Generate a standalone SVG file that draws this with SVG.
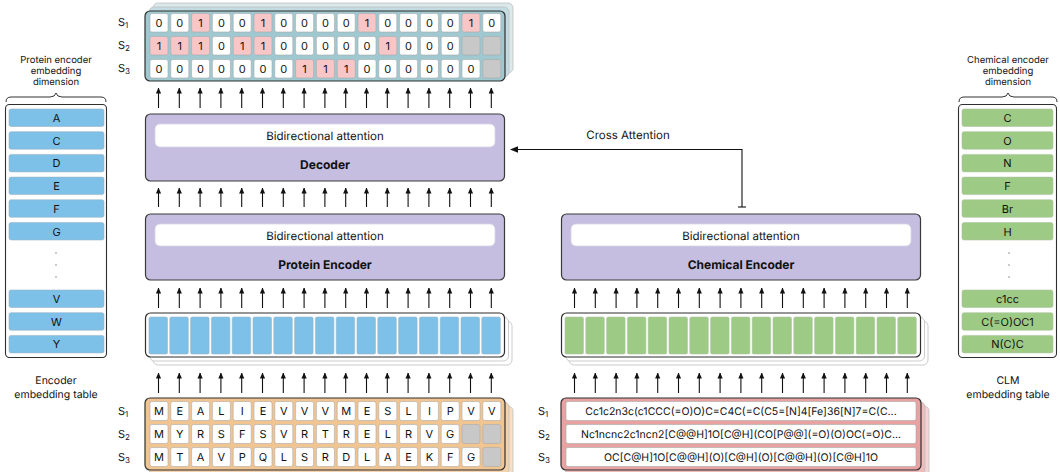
<svg xmlns="http://www.w3.org/2000/svg" width="1060" height="472" viewBox="0 0 1060 472">
  <defs>
    <!-- arrowheads point along +x; orient="auto" turns them with the line -->
    <marker id="head" viewBox="0 0 6 6" refX="5.5" refY="3" markerWidth="6" markerHeight="6" markerUnits="userSpaceOnUse" orient="auto">
      <path d="M0,0.4 L6,3 L0,5.6 Z" fill="#111"/>
    </marker>
    <marker id="headL" viewBox="0 0 8 8" refX="7" refY="4" markerWidth="8" markerHeight="8" markerUnits="userSpaceOnUse" orient="auto">
      <path d="M0,0.8 L8,4 L0,7.2 Z" fill="#111"/>
    </marker>
  </defs>
  <style>
    text { font-family: Inter, "Noto Sans", "Liberation Sans", sans-serif; fill: #111; text-rendering: geometricPrecision; }
    .cap { font-size: 9.5px; text-anchor: middle; }
    .cap2 { font-size: 10.5px; text-anchor: middle; }
    .sub { font-size: 11px; }
    .cell { font-size: 11px; text-anchor: middle; }
    .tok { font-size: 10.5px; text-anchor: middle; }
    .title { font-size: 12px; font-weight: 700; text-anchor: middle; }
    .attn { font-size: 11.5px; text-anchor: middle; }
    .block { fill: #c5bee0; stroke: #3a3a3a; stroke-width: 1.2; }
    .inner { fill: #ffffff; stroke: #d8d4e6; stroke-width: 0.8; }
    .frame { stroke: #2f2f2f; stroke-width: 1.2; }
    .c0 { fill: #ffffff; stroke: #aaaaaa; stroke-width: 0.6; }
    .c1 { fill: #f8c6c6; stroke: #aaaaaa; stroke-width: 0.6; }
    .cp { fill: #c8c8c8; stroke: #aaaaaa; stroke-width: 0.6; }
    .blue { fill: #7dc0e8; stroke: #9cb6c6; stroke-width: 0.6; }
    .green { fill: #9dca84; stroke: #b0c4a4; stroke-width: 0.6; }
    .shadow { stroke: #bfbfbf; stroke-width: 0.8; }
    .arw line { stroke: #111; stroke-width: 1.1; marker-end: url(#head); }
    .table { fill: #ffffff; stroke: #2f2f2f; stroke-width: 1.1; }
    .dot { fill: #888; }
  </style>

  <!-- ===== Output token table (top) ===== -->
  <g id="output-grid">
    <rect x="153" y="3" width="360" height="70" rx="5" fill="#dbe9ec" class="shadow"/>
    <rect x="149" y="7" width="360" height="70" rx="5" fill="#c3dce1" class="shadow"/>
    <rect x="145" y="11" width="360" height="70" rx="5" fill="#9fc8d0" class="frame"/>
    <text class="sub" x="118" y="26">S<tspan font-size="8" dy="2">1</tspan></text>
    <text class="sub" x="118" y="49">S<tspan font-size="8" dy="2">2</tspan></text>
    <text class="sub" x="118" y="72">S<tspan font-size="8" dy="2">3</tspan></text>
    <!-- row S1 -->
    <g>
      <rect class="c0" x="150" y="13.5" width="18" height="18.5" rx="2"/><text class="cell" x="159" y="27">0</text>
      <rect class="c0" x="170.8" y="13.5" width="18" height="18.5" rx="2"/><text class="cell" x="179.8" y="27">0</text>
      <rect class="c1" x="191.6" y="13.5" width="18" height="18.5" rx="2"/><text class="cell" x="200.6" y="27">1</text>
      <rect class="c0" x="212.4" y="13.5" width="18" height="18.5" rx="2"/><text class="cell" x="221.4" y="27">0</text>
      <rect class="c0" x="233.2" y="13.5" width="18" height="18.5" rx="2"/><text class="cell" x="242.2" y="27">0</text>
      <rect class="c1" x="254" y="13.5" width="18" height="18.5" rx="2"/><text class="cell" x="263" y="27">1</text>
      <rect class="c0" x="274.8" y="13.5" width="18" height="18.5" rx="2"/><text class="cell" x="283.8" y="27">0</text>
      <rect class="c0" x="295.6" y="13.5" width="18" height="18.5" rx="2"/><text class="cell" x="304.6" y="27">0</text>
      <rect class="c0" x="316.4" y="13.5" width="18" height="18.5" rx="2"/><text class="cell" x="325.4" y="27">0</text>
      <rect class="c0" x="337.2" y="13.5" width="18" height="18.5" rx="2"/><text class="cell" x="346.2" y="27">0</text>
      <rect class="c1" x="358" y="13.5" width="18" height="18.5" rx="2"/><text class="cell" x="367" y="27">1</text>
      <rect class="c0" x="378.8" y="13.5" width="18" height="18.5" rx="2"/><text class="cell" x="387.8" y="27">0</text>
      <rect class="c0" x="399.6" y="13.5" width="18" height="18.5" rx="2"/><text class="cell" x="408.6" y="27">0</text>
      <rect class="c0" x="420.4" y="13.5" width="18" height="18.5" rx="2"/><text class="cell" x="429.4" y="27">0</text>
      <rect class="c0" x="441.2" y="13.5" width="18" height="18.5" rx="2"/><text class="cell" x="450.2" y="27">0</text>
      <rect class="c1" x="462" y="13.5" width="18" height="18.5" rx="2"/><text class="cell" x="471" y="27">1</text>
      <rect class="c0" x="482.8" y="13.5" width="18" height="18.5" rx="2"/><text class="cell" x="491.8" y="27">0</text>
    </g>
    <!-- row S2 -->
    <g>
      <rect class="c1" x="150" y="36.5" width="18" height="18.5" rx="2"/><text class="cell" x="159" y="50">1</text>
      <rect class="c1" x="170.8" y="36.5" width="18" height="18.5" rx="2"/><text class="cell" x="179.8" y="50">1</text>
      <rect class="c1" x="191.6" y="36.5" width="18" height="18.5" rx="2"/><text class="cell" x="200.6" y="50">1</text>
      <rect class="c0" x="212.4" y="36.5" width="18" height="18.5" rx="2"/><text class="cell" x="221.4" y="50">0</text>
      <rect class="c1" x="233.2" y="36.5" width="18" height="18.5" rx="2"/><text class="cell" x="242.2" y="50">1</text>
      <rect class="c1" x="254" y="36.5" width="18" height="18.5" rx="2"/><text class="cell" x="263" y="50">1</text>
      <rect class="c0" x="274.8" y="36.5" width="18" height="18.5" rx="2"/><text class="cell" x="283.8" y="50">0</text>
      <rect class="c0" x="295.6" y="36.5" width="18" height="18.5" rx="2"/><text class="cell" x="304.6" y="50">0</text>
      <rect class="c0" x="316.4" y="36.5" width="18" height="18.5" rx="2"/><text class="cell" x="325.4" y="50">0</text>
      <rect class="c0" x="337.2" y="36.5" width="18" height="18.5" rx="2"/><text class="cell" x="346.2" y="50">0</text>
      <rect class="c0" x="358" y="36.5" width="18" height="18.5" rx="2"/><text class="cell" x="367" y="50">0</text>
      <rect class="c1" x="378.8" y="36.5" width="18" height="18.5" rx="2"/><text class="cell" x="387.8" y="50">1</text>
      <rect class="c0" x="399.6" y="36.5" width="18" height="18.5" rx="2"/><text class="cell" x="408.6" y="50">0</text>
      <rect class="c0" x="420.4" y="36.5" width="18" height="18.5" rx="2"/><text class="cell" x="429.4" y="50">0</text>
      <rect class="c0" x="441.2" y="36.5" width="18" height="18.5" rx="2"/><text class="cell" x="450.2" y="50">0</text>
      <rect class="cp" x="462" y="36.5" width="18" height="18.5" rx="2"/>
      <rect class="cp" x="482.8" y="36.5" width="18" height="18.5" rx="2"/>
    </g>
    <!-- row S3 -->
    <g>
      <rect class="c0" x="150" y="59.5" width="18" height="18.5" rx="2"/><text class="cell" x="159" y="73">0</text>
      <rect class="c0" x="170.8" y="59.5" width="18" height="18.5" rx="2"/><text class="cell" x="179.8" y="73">0</text>
      <rect class="c0" x="191.6" y="59.5" width="18" height="18.5" rx="2"/><text class="cell" x="200.6" y="73">0</text>
      <rect class="c0" x="212.4" y="59.5" width="18" height="18.5" rx="2"/><text class="cell" x="221.4" y="73">0</text>
      <rect class="c0" x="233.2" y="59.5" width="18" height="18.5" rx="2"/><text class="cell" x="242.2" y="73">0</text>
      <rect class="c0" x="254" y="59.5" width="18" height="18.5" rx="2"/><text class="cell" x="263" y="73">0</text>
      <rect class="c0" x="274.8" y="59.5" width="18" height="18.5" rx="2"/><text class="cell" x="283.8" y="73">0</text>
      <rect class="c1" x="295.6" y="59.5" width="18" height="18.5" rx="2"/><text class="cell" x="304.6" y="73">1</text>
      <rect class="c1" x="316.4" y="59.5" width="18" height="18.5" rx="2"/><text class="cell" x="325.4" y="73">1</text>
      <rect class="c1" x="337.2" y="59.5" width="18" height="18.5" rx="2"/><text class="cell" x="346.2" y="73">1</text>
      <rect class="c0" x="358" y="59.5" width="18" height="18.5" rx="2"/><text class="cell" x="367" y="73">0</text>
      <rect class="c0" x="378.8" y="59.5" width="18" height="18.5" rx="2"/><text class="cell" x="387.8" y="73">0</text>
      <rect class="c0" x="399.6" y="59.5" width="18" height="18.5" rx="2"/><text class="cell" x="408.6" y="73">0</text>
      <rect class="c0" x="420.4" y="59.5" width="18" height="18.5" rx="2"/><text class="cell" x="429.4" y="73">0</text>
      <rect class="c0" x="441.2" y="59.5" width="18" height="18.5" rx="2"/><text class="cell" x="450.2" y="73">0</text>
      <rect class="c0" x="462" y="59.5" width="18" height="18.5" rx="2"/><text class="cell" x="471" y="73">0</text>
      <rect class="cp" x="482.8" y="59.5" width="18" height="18.5" rx="2"/>
    </g>
  </g>

  <!-- ===== Decoder ===== -->
  <g id="decoder">
    <rect class="block" x="145.5" y="114" width="359" height="67" rx="5"/>
    <rect class="inner" x="155" y="124" width="340" height="23" rx="5"/>
    <text class="attn" x="325" y="140">Bidirectional attention</text>
    <text class="title" x="325" y="169">Decoder</text>
  </g>

  <!-- ===== Protein encoder ===== -->
  <g id="protein-encoder">
    <rect class="block" x="145.5" y="214" width="359" height="66" rx="5"/>
    <rect class="inner" x="155" y="224" width="340" height="22" rx="5"/>
    <text class="attn" x="325" y="240">Bidirectional attention</text>
    <text class="title" x="325" y="269">Protein Encoder</text>
  </g>

  <!-- ===== Chemical encoder ===== -->
  <g id="chemical-encoder">
    <rect class="block" x="561.5" y="214" width="359" height="66" rx="5"/>
    <rect class="inner" x="571" y="224" width="340" height="22" rx="5"/>
    <text class="attn" x="741" y="240">Bidirectional attention</text>
    <text class="title" x="741" y="269">Chemical Encoder</text>
  </g>

  <!-- ===== Protein token embeddings ===== -->
  <g id="protein-embeddings">
    <rect x="153" y="321" width="359" height="44" rx="5" fill="#ffffff" class="shadow"/>
    <rect x="149.5" y="317" width="359" height="44" rx="5" fill="#ffffff" class="shadow"/>
    <rect x="145.5" y="313" width="359" height="44" rx="5" fill="#ffffff" class="frame"/>
    <rect class="blue" x="149" y="317" width="18.5" height="37" rx="1.5"/>
    <rect class="blue" x="169.8" y="317" width="18.5" height="37" rx="1.5"/>
    <rect class="blue" x="190.6" y="317" width="18.5" height="37" rx="1.5"/>
    <rect class="blue" x="211.4" y="317" width="18.5" height="37" rx="1.5"/>
    <rect class="blue" x="232.2" y="317" width="18.5" height="37" rx="1.5"/>
    <rect class="blue" x="253" y="317" width="18.5" height="37" rx="1.5"/>
    <rect class="blue" x="273.8" y="317" width="18.5" height="37" rx="1.5"/>
    <rect class="blue" x="294.6" y="317" width="18.5" height="37" rx="1.5"/>
    <rect class="blue" x="315.4" y="317" width="18.5" height="37" rx="1.5"/>
    <rect class="blue" x="336.2" y="317" width="18.5" height="37" rx="1.5"/>
    <rect class="blue" x="357" y="317" width="18.5" height="37" rx="1.5"/>
    <rect class="blue" x="377.8" y="317" width="18.5" height="37" rx="1.5"/>
    <rect class="blue" x="398.6" y="317" width="18.5" height="37" rx="1.5"/>
    <rect class="blue" x="419.4" y="317" width="18.5" height="37" rx="1.5"/>
    <rect class="blue" x="440.2" y="317" width="18.5" height="37" rx="1.5"/>
    <rect class="blue" x="461" y="317" width="18.5" height="37" rx="1.5"/>
    <rect class="blue" x="481.8" y="317" width="18.5" height="37" rx="1.5"/>
  </g>

  <!-- ===== Chemical token embeddings ===== -->
  <g id="chemical-embeddings">
    <rect x="569" y="321" width="359" height="44" rx="5" fill="#ffffff" class="shadow"/>
    <rect x="565.5" y="317" width="359" height="44" rx="5" fill="#ffffff" class="shadow"/>
    <rect x="561.5" y="313" width="359" height="44" rx="5" fill="#ffffff" class="frame"/>
    <rect class="green" x="565" y="317" width="18.5" height="37" rx="1.5"/>
    <rect class="green" x="585.8" y="317" width="18.5" height="37" rx="1.5"/>
    <rect class="green" x="606.6" y="317" width="18.5" height="37" rx="1.5"/>
    <rect class="green" x="627.4" y="317" width="18.5" height="37" rx="1.5"/>
    <rect class="green" x="648.2" y="317" width="18.5" height="37" rx="1.5"/>
    <rect class="green" x="669" y="317" width="18.5" height="37" rx="1.5"/>
    <rect class="green" x="689.8" y="317" width="18.5" height="37" rx="1.5"/>
    <rect class="green" x="710.6" y="317" width="18.5" height="37" rx="1.5"/>
    <rect class="green" x="731.4" y="317" width="18.5" height="37" rx="1.5"/>
    <rect class="green" x="752.2" y="317" width="18.5" height="37" rx="1.5"/>
    <rect class="green" x="773" y="317" width="18.5" height="37" rx="1.5"/>
    <rect class="green" x="793.8" y="317" width="18.5" height="37" rx="1.5"/>
    <rect class="green" x="814.6" y="317" width="18.5" height="37" rx="1.5"/>
    <rect class="green" x="835.4" y="317" width="18.5" height="37" rx="1.5"/>
    <rect class="green" x="856.2" y="317" width="18.5" height="37" rx="1.5"/>
    <rect class="green" x="877" y="317" width="18.5" height="37" rx="1.5"/>
    <rect class="green" x="897.8" y="317" width="18.5" height="37" rx="1.5"/>
  </g>

  <!-- ===== Protein input sequences ===== -->
  <g id="protein-sequences">
    <rect x="153" y="406" width="360" height="72" rx="5" fill="#f6dfc4" class="shadow"/>
    <rect x="149" y="402" width="360" height="72" rx="5" fill="#f3d2ac" class="shadow"/>
    <rect x="145" y="398" width="360" height="72" rx="5" fill="#f1c592" class="frame"/>
    <text class="sub" x="118" y="415">S<tspan font-size="8" dy="2">1</tspan></text>
    <text class="sub" x="118" y="438">S<tspan font-size="8" dy="2">2</tspan></text>
    <text class="sub" x="118" y="461">S<tspan font-size="8" dy="2">3</tspan></text>
    <g>
      <rect class="c0" x="150" y="401.5" width="18" height="19" rx="2"/><text class="cell" x="159" y="415">M</text>
      <rect class="c0" x="170.8" y="401.5" width="18" height="19" rx="2"/><text class="cell" x="179.8" y="415">E</text>
      <rect class="c0" x="191.6" y="401.5" width="18" height="19" rx="2"/><text class="cell" x="200.6" y="415">A</text>
      <rect class="c0" x="212.4" y="401.5" width="18" height="19" rx="2"/><text class="cell" x="221.4" y="415">L</text>
      <rect class="c0" x="233.2" y="401.5" width="18" height="19" rx="2"/><text class="cell" x="242.2" y="415">I</text>
      <rect class="c0" x="254" y="401.5" width="18" height="19" rx="2"/><text class="cell" x="263" y="415">E</text>
      <rect class="c0" x="274.8" y="401.5" width="18" height="19" rx="2"/><text class="cell" x="283.8" y="415">V</text>
      <rect class="c0" x="295.6" y="401.5" width="18" height="19" rx="2"/><text class="cell" x="304.6" y="415">V</text>
      <rect class="c0" x="316.4" y="401.5" width="18" height="19" rx="2"/><text class="cell" x="325.4" y="415">V</text>
      <rect class="c0" x="337.2" y="401.5" width="18" height="19" rx="2"/><text class="cell" x="346.2" y="415">M</text>
      <rect class="c0" x="358" y="401.5" width="18" height="19" rx="2"/><text class="cell" x="367" y="415">E</text>
      <rect class="c0" x="378.8" y="401.5" width="18" height="19" rx="2"/><text class="cell" x="387.8" y="415">S</text>
      <rect class="c0" x="399.6" y="401.5" width="18" height="19" rx="2"/><text class="cell" x="408.6" y="415">L</text>
      <rect class="c0" x="420.4" y="401.5" width="18" height="19" rx="2"/><text class="cell" x="429.4" y="415">I</text>
      <rect class="c0" x="441.2" y="401.5" width="18" height="19" rx="2"/><text class="cell" x="450.2" y="415">P</text>
      <rect class="c0" x="462" y="401.5" width="18" height="19" rx="2"/><text class="cell" x="471" y="415">V</text>
      <rect class="c0" x="482.8" y="401.5" width="18" height="19" rx="2"/><text class="cell" x="491.8" y="415">V</text>
    </g>
    <g>
      <rect class="c0" x="150" y="424.5" width="18" height="19" rx="2"/><text class="cell" x="159" y="438">M</text>
      <rect class="c0" x="170.8" y="424.5" width="18" height="19" rx="2"/><text class="cell" x="179.8" y="438">Y</text>
      <rect class="c0" x="191.6" y="424.5" width="18" height="19" rx="2"/><text class="cell" x="200.6" y="438">R</text>
      <rect class="c0" x="212.4" y="424.5" width="18" height="19" rx="2"/><text class="cell" x="221.4" y="438">S</text>
      <rect class="c0" x="233.2" y="424.5" width="18" height="19" rx="2"/><text class="cell" x="242.2" y="438">F</text>
      <rect class="c0" x="254" y="424.5" width="18" height="19" rx="2"/><text class="cell" x="263" y="438">S</text>
      <rect class="c0" x="274.8" y="424.5" width="18" height="19" rx="2"/><text class="cell" x="283.8" y="438">V</text>
      <rect class="c0" x="295.6" y="424.5" width="18" height="19" rx="2"/><text class="cell" x="304.6" y="438">R</text>
      <rect class="c0" x="316.4" y="424.5" width="18" height="19" rx="2"/><text class="cell" x="325.4" y="438">T</text>
      <rect class="c0" x="337.2" y="424.5" width="18" height="19" rx="2"/><text class="cell" x="346.2" y="438">R</text>
      <rect class="c0" x="358" y="424.5" width="18" height="19" rx="2"/><text class="cell" x="367" y="438">E</text>
      <rect class="c0" x="378.8" y="424.5" width="18" height="19" rx="2"/><text class="cell" x="387.8" y="438">L</text>
      <rect class="c0" x="399.6" y="424.5" width="18" height="19" rx="2"/><text class="cell" x="408.6" y="438">R</text>
      <rect class="c0" x="420.4" y="424.5" width="18" height="19" rx="2"/><text class="cell" x="429.4" y="438">V</text>
      <rect class="c0" x="441.2" y="424.5" width="18" height="19" rx="2"/><text class="cell" x="450.2" y="438">G</text>
      <rect class="cp" x="462" y="424.5" width="18" height="19" rx="2"/>
      <rect class="cp" x="482.8" y="424.5" width="18" height="19" rx="2"/>
    </g>
    <g>
      <rect class="c0" x="150" y="447.5" width="18" height="19" rx="2"/><text class="cell" x="159" y="461">M</text>
      <rect class="c0" x="170.8" y="447.5" width="18" height="19" rx="2"/><text class="cell" x="179.8" y="461">T</text>
      <rect class="c0" x="191.6" y="447.5" width="18" height="19" rx="2"/><text class="cell" x="200.6" y="461">A</text>
      <rect class="c0" x="212.4" y="447.5" width="18" height="19" rx="2"/><text class="cell" x="221.4" y="461">V</text>
      <rect class="c0" x="233.2" y="447.5" width="18" height="19" rx="2"/><text class="cell" x="242.2" y="461">P</text>
      <rect class="c0" x="254" y="447.5" width="18" height="19" rx="2"/><text class="cell" x="263" y="461">Q</text>
      <rect class="c0" x="274.8" y="447.5" width="18" height="19" rx="2"/><text class="cell" x="283.8" y="461">L</text>
      <rect class="c0" x="295.6" y="447.5" width="18" height="19" rx="2"/><text class="cell" x="304.6" y="461">S</text>
      <rect class="c0" x="316.4" y="447.5" width="18" height="19" rx="2"/><text class="cell" x="325.4" y="461">R</text>
      <rect class="c0" x="337.2" y="447.5" width="18" height="19" rx="2"/><text class="cell" x="346.2" y="461">D</text>
      <rect class="c0" x="358" y="447.5" width="18" height="19" rx="2"/><text class="cell" x="367" y="461">L</text>
      <rect class="c0" x="378.8" y="447.5" width="18" height="19" rx="2"/><text class="cell" x="387.8" y="461">A</text>
      <rect class="c0" x="399.6" y="447.5" width="18" height="19" rx="2"/><text class="cell" x="408.6" y="461">E</text>
      <rect class="c0" x="420.4" y="447.5" width="18" height="19" rx="2"/><text class="cell" x="429.4" y="461">K</text>
      <rect class="c0" x="441.2" y="447.5" width="18" height="19" rx="2"/><text class="cell" x="450.2" y="461">F</text>
      <rect class="c0" x="462" y="447.5" width="18" height="19" rx="2"/><text class="cell" x="471" y="461">G</text>
      <rect class="cp" x="482.8" y="447.5" width="18" height="19" rx="2"/>
    </g>
  </g>

  <!-- ===== Chemical input sequences (SMILES) ===== -->
  <g id="chemical-sequences">
    <rect x="569" y="406" width="360" height="72" rx="5" fill="#f4d4d4" class="shadow"/>
    <rect x="565" y="402" width="360" height="72" rx="5" fill="#efbcbc" class="shadow"/>
    <rect x="561" y="398" width="360" height="72" rx="5" fill="#e9a2a2" class="frame"/>
    <text class="sub" x="538" y="415">S<tspan font-size="8" dy="2">1</tspan></text>
    <text class="sub" x="538" y="438">S<tspan font-size="8" dy="2">2</tspan></text>
    <text class="sub" x="538" y="461">S<tspan font-size="8" dy="2">3</tspan></text>
    <rect class="c0" x="566" y="401.5" width="350" height="19" rx="2"/>
    <text class="tok" x="741" y="415">Cc1c2n3c(c1CCC(=O)O)C=C4C(=C(C5=[N]4[Fe]36[N]7=C(C...</text>
    <rect class="c0" x="566" y="424.5" width="350" height="19" rx="2"/>
    <text class="tok" x="741" y="438">Nc1ncnc2c1ncn2[C@@H]1O[C@H](CO[P@@](=O)(O)OC(=O)C...</text>
    <rect class="c0" x="566" y="447.5" width="350" height="19" rx="2"/>
    <text class="tok" x="741" y="461">OC[C@H]1O[C@@H](O)[C@H](O)[C@@H](O)[C@H]1O</text>
  </g>

  <!-- ===== Protein embedding table (left) ===== -->
  <g id="protein-embedding-table">
    <text class="cap" x="56" y="63">Protein encoder</text>
    <text class="cap" x="56" y="74">embedding</text>
    <text class="cap" x="56" y="85">dimension</text>
    <path d="M6,102 Q6,97 11,97 L50,97 Q55,97 56,93 Q57,97 62,97 L101,97 Q106,97 106,102" fill="none" stroke="#333" stroke-width="1"/>
    <rect class="table" x="5.5" y="104.5" width="101" height="253" rx="4"/>
    <rect class="blue" x="9" y="109" width="95" height="17.5" rx="2"/><text class="cell" x="56.5" y="122">A</text>
    <rect class="blue" x="9" y="131.7" width="95" height="17.5" rx="2"/><text class="cell" x="56.5" y="144.7">C</text>
    <rect class="blue" x="9" y="154.4" width="95" height="17.5" rx="2"/><text class="cell" x="56.5" y="167.4">D</text>
    <rect class="blue" x="9" y="177.1" width="95" height="17.5" rx="2"/><text class="cell" x="56.5" y="190.1">E</text>
    <rect class="blue" x="9" y="199.8" width="95" height="17.5" rx="2"/><text class="cell" x="56.5" y="212.8">F</text>
    <rect class="blue" x="9" y="222.5" width="95" height="17.5" rx="2"/><text class="cell" x="56.5" y="235.5">G</text>
    <circle class="dot" cx="56" cy="253" r="0.8"/>
    <circle class="dot" cx="56" cy="265" r="0.8"/>
    <circle class="dot" cx="56" cy="277" r="0.8"/>
    <rect class="blue" x="9" y="290" width="95" height="17.5" rx="2"/><text class="cell" x="56.5" y="303">V</text>
    <rect class="blue" x="9" y="312.7" width="95" height="17.5" rx="2"/><text class="cell" x="56.5" y="325.7">W</text>
    <rect class="blue" x="9" y="335.4" width="95" height="17.5" rx="2"/><text class="cell" x="56.5" y="348.4">Y</text>
    <text class="cap2" x="56" y="384">Encoder</text>
    <text class="cap2" x="56" y="398">embedding table</text>
  </g>

  <!-- ===== CLM embedding table (right) ===== -->
  <g id="clm-embedding-table">
    <text class="cap" x="1008" y="63">Chemical encoder</text>
    <text class="cap" x="1008" y="74">embedding</text>
    <text class="cap" x="1008" y="85">dimension</text>
    <path d="M959,102 Q959,97 964,97 L1002,97 Q1007,97 1008,93 Q1009,97 1014,97 L1052,97 Q1057,97 1057,102" fill="none" stroke="#333" stroke-width="1"/>
    <rect class="table" x="958.5" y="104.5" width="98" height="253" rx="4"/>
    <rect class="green" x="962" y="109" width="91" height="17.5" rx="2"/><text class="cell" x="1007.5" y="122">C</text>
    <rect class="green" x="962" y="131.7" width="91" height="17.5" rx="2"/><text class="cell" x="1007.5" y="144.7">O</text>
    <rect class="green" x="962" y="154.4" width="91" height="17.5" rx="2"/><text class="cell" x="1007.5" y="167.4">N</text>
    <rect class="green" x="962" y="177.1" width="91" height="17.5" rx="2"/><text class="cell" x="1007.5" y="190.1">F</text>
    <rect class="green" x="962" y="199.8" width="91" height="17.5" rx="2"/><text class="cell" x="1007.5" y="212.8">Br</text>
    <rect class="green" x="962" y="222.5" width="91" height="17.5" rx="2"/><text class="cell" x="1007.5" y="235.5">H</text>
    <circle class="dot" cx="1009" cy="253" r="0.8"/>
    <circle class="dot" cx="1009" cy="265" r="0.8"/>
    <circle class="dot" cx="1009" cy="277" r="0.8"/>
    <rect class="green" x="962" y="290" width="91" height="17.5" rx="2"/><text class="cell" x="1007.5" y="303">c1cc</text>
    <rect class="green" x="962" y="312.7" width="91" height="17.5" rx="2"/><text class="cell" x="1007.5" y="325.7">C(=O)OC1</text>
    <rect class="green" x="962" y="335.4" width="91" height="17.5" rx="2"/><text class="cell" x="1007.5" y="348.4">N(C)C</text>
    <text class="cap2" x="1008" y="384">CLM</text>
    <text class="cap2" x="1008" y="398">embedding table</text>
  </g>

  <!-- ===== Connectors ===== -->
  <g id="connectors">
    <!-- protein stack arrows: columns at x = 158.5 + 20.8 i -->
    <g class="arw" id="arrows-protein">
      <line x1="158.5" y1="108" x2="158.5" y2="88"/><line x1="179.3" y1="108" x2="179.3" y2="88"/><line x1="200.1" y1="108" x2="200.1" y2="88"/><line x1="220.9" y1="108" x2="220.9" y2="88"/><line x1="241.7" y1="108" x2="241.7" y2="88"/><line x1="262.5" y1="108" x2="262.5" y2="88"/><line x1="283.3" y1="108" x2="283.3" y2="88"/><line x1="304.1" y1="108" x2="304.1" y2="88"/><line x1="324.9" y1="108" x2="324.9" y2="88"/><line x1="345.7" y1="108" x2="345.7" y2="88"/><line x1="366.5" y1="108" x2="366.5" y2="88"/><line x1="387.3" y1="108" x2="387.3" y2="88"/><line x1="408.1" y1="108" x2="408.1" y2="88"/><line x1="428.9" y1="108" x2="428.9" y2="88"/><line x1="449.7" y1="108" x2="449.7" y2="88"/><line x1="470.5" y1="108" x2="470.5" y2="88"/><line x1="491.3" y1="108" x2="491.3" y2="88"/>
      <line x1="158.5" y1="207" x2="158.5" y2="188"/><line x1="179.3" y1="207" x2="179.3" y2="188"/><line x1="200.1" y1="207" x2="200.1" y2="188"/><line x1="220.9" y1="207" x2="220.9" y2="188"/><line x1="241.7" y1="207" x2="241.7" y2="188"/><line x1="262.5" y1="207" x2="262.5" y2="188"/><line x1="283.3" y1="207" x2="283.3" y2="188"/><line x1="304.1" y1="207" x2="304.1" y2="188"/><line x1="324.9" y1="207" x2="324.9" y2="188"/><line x1="345.7" y1="207" x2="345.7" y2="188"/><line x1="366.5" y1="207" x2="366.5" y2="188"/><line x1="387.3" y1="207" x2="387.3" y2="188"/><line x1="408.1" y1="207" x2="408.1" y2="188"/><line x1="428.9" y1="207" x2="428.9" y2="188"/><line x1="449.7" y1="207" x2="449.7" y2="188"/><line x1="470.5" y1="207" x2="470.5" y2="188"/><line x1="491.3" y1="207" x2="491.3" y2="188"/>
      <line x1="158.5" y1="308" x2="158.5" y2="288"/><line x1="179.3" y1="308" x2="179.3" y2="288"/><line x1="200.1" y1="308" x2="200.1" y2="288"/><line x1="220.9" y1="308" x2="220.9" y2="288"/><line x1="241.7" y1="308" x2="241.7" y2="288"/><line x1="262.5" y1="308" x2="262.5" y2="288"/><line x1="283.3" y1="308" x2="283.3" y2="288"/><line x1="304.1" y1="308" x2="304.1" y2="288"/><line x1="324.9" y1="308" x2="324.9" y2="288"/><line x1="345.7" y1="308" x2="345.7" y2="288"/><line x1="366.5" y1="308" x2="366.5" y2="288"/><line x1="387.3" y1="308" x2="387.3" y2="288"/><line x1="408.1" y1="308" x2="408.1" y2="288"/><line x1="428.9" y1="308" x2="428.9" y2="288"/><line x1="449.7" y1="308" x2="449.7" y2="288"/><line x1="470.5" y1="308" x2="470.5" y2="288"/><line x1="491.3" y1="308" x2="491.3" y2="288"/>
      <line x1="158.5" y1="393" x2="158.5" y2="373"/><line x1="179.3" y1="393" x2="179.3" y2="373"/><line x1="200.1" y1="393" x2="200.1" y2="373"/><line x1="220.9" y1="393" x2="220.9" y2="373"/><line x1="241.7" y1="393" x2="241.7" y2="373"/><line x1="262.5" y1="393" x2="262.5" y2="373"/><line x1="283.3" y1="393" x2="283.3" y2="373"/><line x1="304.1" y1="393" x2="304.1" y2="373"/><line x1="324.9" y1="393" x2="324.9" y2="373"/><line x1="345.7" y1="393" x2="345.7" y2="373"/><line x1="366.5" y1="393" x2="366.5" y2="373"/><line x1="387.3" y1="393" x2="387.3" y2="373"/><line x1="408.1" y1="393" x2="408.1" y2="373"/><line x1="428.9" y1="393" x2="428.9" y2="373"/><line x1="449.7" y1="393" x2="449.7" y2="373"/><line x1="470.5" y1="393" x2="470.5" y2="373"/><line x1="491.3" y1="393" x2="491.3" y2="373"/>
    </g>
    <!-- chemical stack arrows: columns at x = 574.5 + 20.8 i -->
    <g class="arw" id="arrows-chemical">
      <line x1="574.5" y1="308" x2="574.5" y2="288"/><line x1="595.3" y1="308" x2="595.3" y2="288"/><line x1="616.1" y1="308" x2="616.1" y2="288"/><line x1="636.9" y1="308" x2="636.9" y2="288"/><line x1="657.7" y1="308" x2="657.7" y2="288"/><line x1="678.5" y1="308" x2="678.5" y2="288"/><line x1="699.3" y1="308" x2="699.3" y2="288"/><line x1="720.1" y1="308" x2="720.1" y2="288"/><line x1="740.9" y1="308" x2="740.9" y2="288"/><line x1="761.7" y1="308" x2="761.7" y2="288"/><line x1="782.5" y1="308" x2="782.5" y2="288"/><line x1="803.3" y1="308" x2="803.3" y2="288"/><line x1="824.1" y1="308" x2="824.1" y2="288"/><line x1="844.9" y1="308" x2="844.9" y2="288"/><line x1="865.7" y1="308" x2="865.7" y2="288"/><line x1="886.5" y1="308" x2="886.5" y2="288"/><line x1="907.3" y1="308" x2="907.3" y2="288"/>
      <line x1="574.5" y1="393" x2="574.5" y2="373"/><line x1="595.3" y1="393" x2="595.3" y2="373"/><line x1="616.1" y1="393" x2="616.1" y2="373"/><line x1="636.9" y1="393" x2="636.9" y2="373"/><line x1="657.7" y1="393" x2="657.7" y2="373"/><line x1="678.5" y1="393" x2="678.5" y2="373"/><line x1="699.3" y1="393" x2="699.3" y2="373"/><line x1="720.1" y1="393" x2="720.1" y2="373"/><line x1="740.9" y1="393" x2="740.9" y2="373"/><line x1="761.7" y1="393" x2="761.7" y2="373"/><line x1="782.5" y1="393" x2="782.5" y2="373"/><line x1="803.3" y1="393" x2="803.3" y2="373"/><line x1="824.1" y1="393" x2="824.1" y2="373"/><line x1="844.9" y1="393" x2="844.9" y2="373"/><line x1="865.7" y1="393" x2="865.7" y2="373"/><line x1="886.5" y1="393" x2="886.5" y2="373"/><line x1="907.3" y1="393" x2="907.3" y2="373"/>
    </g>
    <!-- cross attention from chemical encoder into decoder -->
    <g id="cross-attention">
      <path d="M742,207 L742,149.5 L511,149.5" fill="none" stroke="#111" stroke-width="1.1" marker-end="url(#headL)"/>
      <line x1="738" y1="207" x2="746" y2="207" stroke="#111" stroke-width="1.1"/>
      <text class="attn" x="628" y="139">Cross Attention</text>
    </g>
  </g>
</svg>
